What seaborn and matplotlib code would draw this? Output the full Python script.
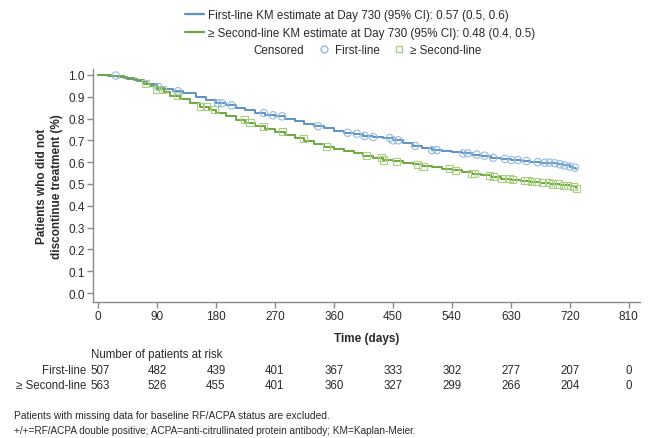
import numpy as np
import pandas as pd
import matplotlib
matplotlib.use("Agg")
import matplotlib.pyplot as plt
import matplotlib.transforms as mtransforms
from matplotlib.lines import Line2D
import seaborn as sns

# KM step data
first_t = [0, 15, 30, 45, 60, 75, 90, 100, 115, 130, 150, 165, 180, 195, 210, 225, 240, 255,
           270, 285, 300, 315, 330, 345, 360, 375, 390, 405, 420, 435, 450, 465, 480, 495,
           510, 525, 540, 555, 570, 585, 600, 615, 630, 645, 660, 675, 690, 700, 710, 720,
           725, 730]
first_s = [1.0, 0.997, 0.99, 0.98, 0.97, 0.96, 0.945, 0.935, 0.925, 0.915, 0.90, 0.885, 0.87,
           0.86, 0.85, 0.84, 0.825, 0.815, 0.81, 0.80, 0.79, 0.775, 0.765, 0.755, 0.745,
           0.735, 0.73, 0.72, 0.715, 0.71, 0.70, 0.69, 0.675, 0.665, 0.655, 0.65, 0.645,
           0.64, 0.635, 0.63, 0.62, 0.615, 0.61, 0.605, 0.60, 0.598, 0.595, 0.59, 0.585,
           0.58, 0.575, 0.57]
second_t = [0, 20, 40, 55, 70, 80, 90, 100, 110, 125, 140, 155, 170, 180, 195, 210, 225, 240,
            255, 270, 285, 300, 315, 330, 345, 360, 375, 390, 405, 420, 435, 450, 465, 480,
            495, 510, 525, 540, 555, 570, 585, 600, 615, 630, 645, 660, 675, 690, 705, 720,
            730]
second_s = [1.0, 0.995, 0.985, 0.975, 0.96, 0.95, 0.935, 0.92, 0.905, 0.89, 0.87, 0.855,
            0.84, 0.825, 0.81, 0.795, 0.78, 0.765, 0.75, 0.74, 0.725, 0.71, 0.695, 0.685,
            0.67, 0.66, 0.65, 0.64, 0.63, 0.62, 0.61, 0.605, 0.595, 0.59, 0.582, 0.577, 0.57,
            0.562, 0.555, 0.548, 0.54, 0.533, 0.525, 0.52, 0.515, 0.51, 0.505, 0.50, 0.495,
            0.49, 0.48]

# censoring times
first_cens = [27, 92, 122, 183, 189, 204, 253, 267, 281, 336, 381, 395, 407, 420, 445, 450,
              458, 484, 510, 517, 557, 564, 578, 590, 603, 621, 631, 641, 654, 671, 682, 689,
              697, 705, 712, 720, 728]
second_cens = [72, 90, 98, 122, 156, 166, 178, 224, 232, 252, 281, 313, 349, 410, 433, 435,
               456, 487, 496, 537, 545, 570, 575, 598, 603, 616, 628, 633, 651, 656, 661, 669,
               679, 687, 694, 702, 710, 717, 725, 730]

risk_times = [0, 90, 180, 270, 360, 450, 540, 630, 720, 810]
risk_first = [507, 482, 439, 401, 367, 333, 302, 277, 207, 0]
risk_second = [563, 526, 455, 401, 360, 327, 299, 266, 204, 0]

BLUE = "#5b93c8"
GREEN = "#6ea83c"
BLUE_M = "#92badf"
GREEN_M = "#a8cf82"
TXT = "#2a2a2a"
AX = "#8a8a8a"


def step_at(times, surv, pts):
    idx = np.searchsorted(times, pts, side="right") - 1
    return np.asarray(surv)[idx]


sns.set_style("white")
plt.rcParams["font.family"] = ["Liberation Sans", "DejaVu Sans"]

fig = plt.figure(figsize=(6.51, 4.39), dpi=100)
ax = fig.add_axes([0.1429, 0.3098, 0.983 - 0.1429, 0.8405 - 0.3098])

sns.lineplot(x=first_t, y=first_s, ax=ax, color=BLUE, lw=1.4, drawstyle="steps-post",
             estimator=None, sort=False)
sns.lineplot(x=second_t, y=second_s, ax=ax, color=GREEN, lw=1.4, drawstyle="steps-post",
             estimator=None, sort=False)

ax.scatter(first_cens, step_at(first_t, first_s, first_cens), marker="o", s=28,
           facecolors="none", edgecolors=BLUE_M, linewidths=0.8, zorder=3)
ax.scatter(second_cens, step_at(second_t, second_s, second_cens), marker="s", s=26,
           facecolors="none", edgecolors=GREEN_M, linewidths=0.8, zorder=3)

ax.set_xlim(-7.6, 827)
ax.set_ylim(-0.041, 1.027)
ax.set_xticks(risk_times)
ax.set_yticks(np.arange(0, 1.01, 0.1))
ax.set_yticklabels([f"{v:.1f}" for v in np.arange(0, 1.01, 0.1)])
for s in ["top", "right"]:
    ax.spines[s].set_visible(False)
for s in ["left", "bottom"]:
    ax.spines[s].set_color(AX)
    ax.spines[s].set_linewidth(1.0)
ax.tick_params(axis="both", direction="out", length=4, width=1, color=AX,
               labelsize=8.5, labelcolor=TXT, pad=2, left=True, bottom=True)
ax.set_xlabel("Time (days)", fontsize=8.5, fontweight="bold", color=TXT, labelpad=7)
ax.set_ylabel("Patients who did not\ndiscontinue treatment (%)", fontsize=8.5,
              fontweight="bold", color=TXT, labelpad=4, linespacing=1.3)

# legends
h1 = [Line2D([], [], color=BLUE, lw=1.6), Line2D([], [], color=GREEN, lw=1.6)]
l1 = ["First-line KM estimate at Day 730 (95% CI): 0.57 (0.5, 0.6)",
      "≥ Second-line KM estimate at Day 730 (95% CI): 0.48 (0.4, 0.5)"]
fig.legend(h1, l1, loc="upper left", bbox_to_anchor=(0.268, 1.0), frameon=False,
           fontsize=8.4, handlelength=1.6, handletextpad=0.35, labelspacing=0.5,
           labelcolor=TXT)
h2 = [Line2D([], [], lw=0, marker=None),
      Line2D([], [], lw=0, marker="o", mfc="none", mec=BLUE_M, ms=5),
      Line2D([], [], lw=0, marker="s", mfc="none", mec=GREEN_M, ms=5)]
l2 = ["Censored", "First-line", "≥ Second-line"]
fig.legend(h2, l2, loc="center", bbox_to_anchor=(0.552, 1 - 51 / 439), ncol=3,
           frameon=False, fontsize=8.4, handlelength=1.0, handletextpad=0.4,
           columnspacing=1.2, labelcolor=TXT)

# at-risk table
tr = mtransforms.blended_transform_factory(ax.transData, fig.transFigure)
fig.text(91 / 651, 1 - 355 / 439, "Number of patients at risk", fontsize=8.3, color=TXT,
         va="center")
fig.text(86 / 651, 1 - 371 / 439, "First-line", fontsize=8.3, color=TXT, ha="right",
         va="center")
fig.text(86 / 651, 1 - 386 / 439, "≥ Second-line", fontsize=8.3, color=TXT, ha="right",
         va="center")
for t, a, b in zip(risk_times, risk_first, risk_second):
    ha = "left" if t == 0 else "center"
    xt = t - 12 if t == 0 else t
    ax.text(xt, 1 - 371 / 439, str(a), transform=tr, fontsize=8.3, color=TXT, ha=ha,
            va="center")
    ax.text(xt, 1 - 386 / 439, str(b), transform=tr, fontsize=8.3, color=TXT, ha=ha,
            va="center")

fig.text(14 / 651, 1 - 416 / 439,
         "Patients with missing data for baseline RF/ACPA status are excluded.",
         fontsize=7.4, color=TXT, va="center")
fig.text(14 / 651, 1 - 431 / 439,
         "+/+=RF/ACPA double positive; ACPA=anti-citrullinated protein antibody; KM=Kaplan-Meier.",
         fontsize=7.2, color=TXT, va="center")

fig.savefig("out.png", dpi=100, facecolor="white")
